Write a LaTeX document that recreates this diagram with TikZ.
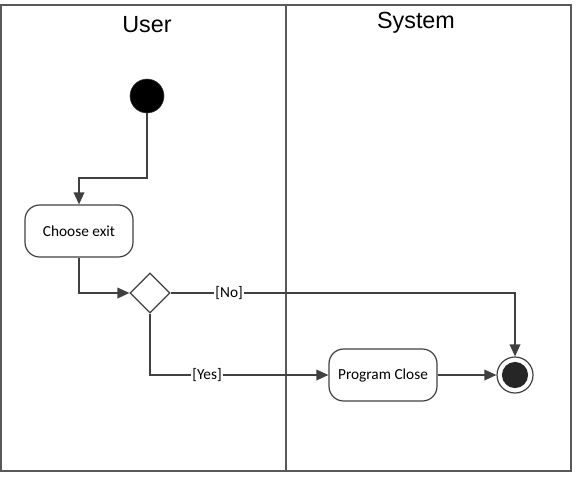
\documentclass[tikz,border=0pt]{standalone}
\usepackage{fontspec}
\setmainfont{Carlito}
\newfontfamily\lanefont{Liberation Sans}
\usetikzlibrary{shapes.geometric, arrows.meta, positioning}
\definecolor{linegray}{HTML}{404040}
\tikzstyle{initial} = [circle, fill=black, draw=linegray, minimum size=25.5pt, inner sep=0pt]
\tikzstyle{activity} = [rectangle, rounded corners=11pt, minimum width=81pt, minimum height=39pt, text centered, draw=linegray, line width=0.9pt, font=\fontsize{11.5}{13}\selectfont]
\tikzstyle{decision} = [diamond, minimum size=30pt, inner sep=0pt, draw=linegray, line width=0.9pt]
\tikzstyle{final} = [circle, draw=linegray, line width=0.9pt, minimum size=27pt, inner sep=0pt, path picture={\fill[black!85] (path picture bounding box.center) circle (9.8pt);}]
\tikzstyle{lane} = [font=\lanefont\fontsize{17.5}{20}\selectfont]
\tikzstyle{guard} = [fill=white, inner sep=1pt, font=\fontsize{11.5}{13}\selectfont]
\tikzstyle{arrow} = [draw=linegray, line width=1.1pt, -{Triangle[length=9pt,width=8pt]}]

\begin{document}
\begin{tikzpicture}[x=0.75pt, y=-0.75pt]
\useasboundingbox (0,0) rectangle (577,476);
% swimlanes
\draw [draw=black!65, line width=1.3pt] (1,5) rectangle (571,471);
\draw [draw=black!65, line width=1.3pt] (286,5) -- (286,471);
\node (user) [lane] at (147,25) {User};
\node (system) [lane] at (416,23) {System};
% nodes
\node (start) [initial] at (147,96) {};
\node (choose) [activity] at (79,231) {Choose exit};
\node (decide) [decision] at (150,293) {};
\node (close) [activity] at (383,375) {Program Close};
\node (end) [final, right = 99pt of close.center, anchor=center] {};
\coordinate (bend) at (147,178);
% flows
\draw [arrow] (start) -- (bend) -| (choose);
\draw [arrow] (choose) |- (decide);
\draw [arrow] (decide) -| node [guard, pos=0.085] {[No]} (end);
\draw [arrow] (decide) |- node [guard, pos=0.66] {[Yes]} (close);
\draw [arrow] (close) -- (end);
\end{tikzpicture}
\end{document}
